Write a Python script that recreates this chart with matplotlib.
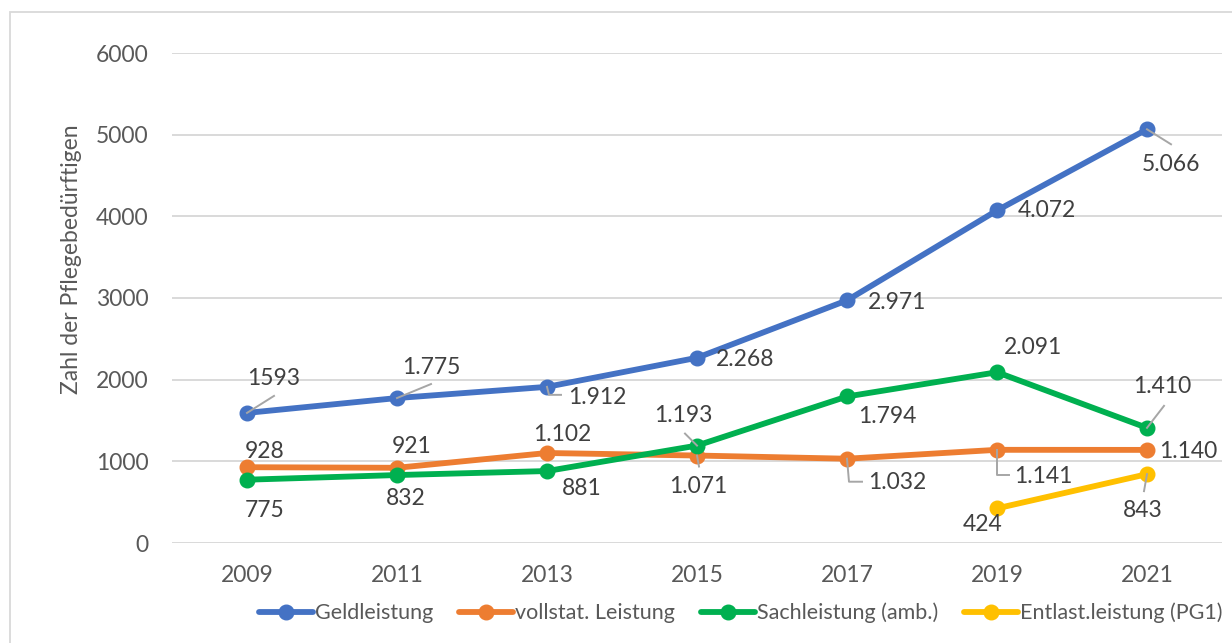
import matplotlib
matplotlib.use("Agg")
import matplotlib.pyplot as plt
from matplotlib.lines import Line2D
from matplotlib.patches import Rectangle

plt.rcParams['font.family'] = ['Lato', 'DejaVu Sans']

years = ["2009", "2011", "2013", "2015", "2017", "2019", "2021"]
geldleistung = [1593, 1775, 1912, 2268, 2971, 4072, 5066]
vollstat = [928, 921, 1102, 1071, 1032, 1141, 1140]
sachleistung = [775, 832, 881, 1193, 1794, 2091, 1410]
entlast = [None, None, None, None, None, 424, 843]

geld_labels = ["1593", "1.775", "1.912", "2.268", "2.971", "4.072", "5.066"]
voll_labels = ["928", "921", "1.102", "1.071", "1.032", "1.141", "1.140"]
sach_labels = ["775", "832", "881", "1.193", "1.794", "2.091", "1.410"]
entl_labels = [None, None, None, None, None, "424", "843"]

series_names = ["Geldleistung", "vollstat. Leistung", "Sachleistung (amb.)", "Entlast.leistung (PG1)"]
colors = ["#4472C4", "#ED7D31", "#00B050", "#FFC000"]
yticks = [0, 1000, 2000, 3000, 4000, 5000, 6000]

W, H = 1232, 643
fig = plt.figure(figsize=(W / 100, H / 100), dpi=100)
fig.patch.set_facecolor("white")

# outer border
fig.patches.append(Rectangle((10, -20), W + 20, H - 12 + 20, transform=None,
                             fill=False, edgecolor="#D9D9D9", linewidth=1.3))

L, R, B, T = 172, 1222, 543, 53
ax = fig.add_axes([L / W, 1 - B / H, (R - L) / W, (B - T) / H])
ax.set_xlim(-0.5, len(years) - 0.5)
ax.set_ylim(0, 6000)
for s in ax.spines.values():
    s.set_visible(False)
ax.set_yticks(yticks)
ax.set_yticklabels([str(v) for v in yticks])
ax.set_xticks(range(len(years)))
ax.set_xticklabels(years)
ax.tick_params(axis='both', length=0, labelsize=16.5, labelcolor="#595959")
ax.tick_params(axis='y', pad=17)
ax.tick_params(axis='x', pad=16)
ax.grid(axis='y', color="#D9D9D9", linewidth=1.4)
ax.set_axisbelow(True)

all_series = [geldleistung, vollstat, sachleistung, entlast]
all_labels = [geld_labels, voll_labels, sach_labels, entl_labels]

handles = []
for vals, c, name in zip(all_series, colors, series_names):
    xs = [i for i, v in enumerate(vals) if v is not None]
    ys = [v for v in vals if v is not None]
    h, = ax.plot(xs, ys, color=c, linewidth=4.2, marker='o', markersize=10.5,
                 solid_capstyle='round', zorder=3, label=name)
    handles.append(h)

# label offsets in pixels (dx right, dy up) from the point
offsets = [
    [(27, 34), (34, 31), (50, -11), (48, -2), (50, -2), (50, 0), (24, -35)],
    [(18, 16), (15, 21), (15, 19), (1, -31), (50, -24), (46, -27), (41, -2)],
    [(18, -31), (9, -23), (35, -17), (-14, 30), (40, -20), (36, 25), (15, 41)],
    [None, None, None, None, None, (-14, -16), (-4, -36)],
]
# leader lines as pixel polylines relative to point (y up)
leaders = {
    (0, 0): [(0, 0), (27, 17)],
    (0, 1): [(0, 0), (34, 14)],
    (0, 2): [(0, 0), (2, -8), (14, -8)],
    (0, 6): [(0, 0), (24, -15)],
    (1, 3): [(0, 0), (2, -11)],
    (1, 4): [(0, 0), (2, -23), (15, -23)],
    (1, 5): [(0, 0), (0, -25), (12, -25)],
    (2, 3): [(0, 0), (-12, 12)],
    (2, 6): [(0, 0), (17, 22)],
    (3, 6): [(0, 0), (-3, -17)],
}

for si, (vals, labs) in enumerate(zip(all_series, all_labels)):
    for i, (v, lab) in enumerate(zip(vals, labs)):
        if v is None:
            continue
        dx, dy = offsets[si][i]
        ax.annotate(lab, xy=(i, v), xytext=(dx, dy), textcoords='offset pixels',
                    ha='center', va='center', fontsize=16.5, color="#404040", zorder=5)
        if (si, i) in leaders:
            px, py = ax.transData.transform((i, v))
            pts = leaders[(si, i)]
            ln = Line2D([px + p[0] for p in pts], [py + p[1] for p in pts],
                        transform=None, color="#A6A6A6", linewidth=1.4, zorder=6)
            fig.lines.append(ln)

fig.text(72 / W, 1 - 259 / H, "Zahl der Pflegebedürftigen", rotation=90,
         ha='center', va='center', fontsize=16.5, color="#595959")

leg = fig.legend(handles=handles, labels=series_names, loc='center',
                 bbox_to_anchor=(741 / W, 1 - 613 / H), ncol=4, frameon=False,
                 fontsize=15.5, handlelength=2.5, handletextpad=0.1, columnspacing=1.2,
                 labelcolor="#595959")

fig.savefig("out.png", dpi=100, facecolor="white")
